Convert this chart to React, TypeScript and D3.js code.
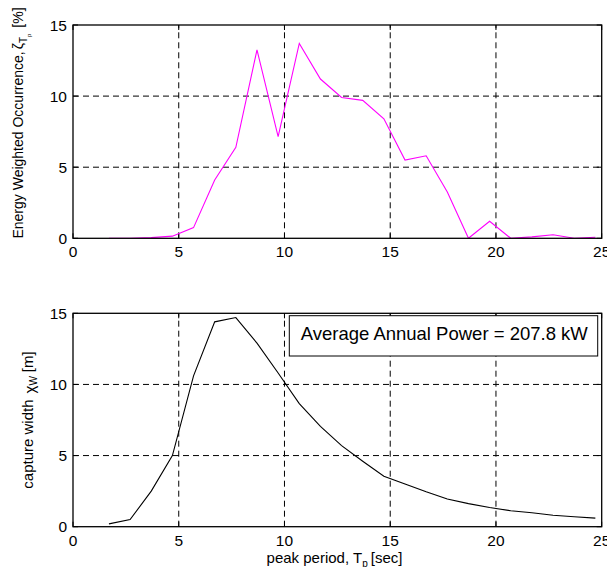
import React from 'react';
import * as d3 from 'd3';

const periods = [1.7, 2.7, 3.7, 4.7, 5.7, 6.7, 7.7, 8.7, 9.7, 10.7, 11.7, 12.7, 13.7, 14.7, 15.7, 16.7, 17.7, 18.7, 19.7, 20.7, 21.7, 22.7, 23.7, 24.7];
const occurrence = [0, 0, 0.05, 0.15, 0.75, 4.1, 6.4, 13.25, 7.15, 13.7, 11.2, 9.9, 9.7, 8.4, 5.5, 5.8, 3.25, 0, 1.2, 0, 0.1, 0.25, 0, 0.07];
const captureWidth = [0.2, 0.5, 2.5, 5.0, 10.6, 14.4, 14.7, 12.9, 10.8, 8.65, 7.05, 5.7, 4.6, 3.55, 3.0, 2.45, 1.95, 1.62, 1.35, 1.12, 0.98, 0.8, 0.7, 0.6];
const xTicks = [0, 5, 10, 15, 20, 25];
const yTicks = [0, 5, 10, 15];
const legendText = 'Average Annual Power = 207.8 kW';

const W = 607;
const H = 567;
const FONT = '"Liberation Sans", Arial, Helvetica, sans-serif';

const xScale = d3.scaleLinear().domain([0, 25]).range([73, 601.7]);
const yTop = d3.scaleLinear().domain([0, 15]).range([238.3, 25]);
const yBot = d3.scaleLinear().domain([0, 15]).range([526.7, 313.3]);

function Panel({ y, values, color, id }: { y: d3.ScaleLinear<number, number>; values: number[]; color: string; id: string }) {
  const [x0, x1] = xScale.range();
  const [y0, y1] = y.range();
  const line = d3
    .line<number>()
    .x((_, i) => xScale(periods[i]))
    .y((d) => y(d));
  const tickLen = 5;
  return (
    <g>
      <defs>
        <clipPath id={id}>
          <rect x={x0} y={y1} width={x1 - x0} height={y0 - y1} />
        </clipPath>
      </defs>
      <rect x={x0} y={y1} width={x1 - x0} height={y0 - y1} fill="white" />
      {xTicks.slice(1, -1).map((t) => (
        <line key={'gx' + t} x1={xScale(t)} x2={xScale(t)} y1={y0} y2={y1} stroke="#000" strokeWidth={1} strokeDasharray="6,4" />
      ))}
      {yTicks.slice(1, -1).map((t) => (
        <line key={'gy' + t} x1={x0} x2={x1} y1={y(t)} y2={y(t)} stroke="#000" strokeWidth={1} strokeDasharray="6,4" />
      ))}
      {xTicks.map((t) => (
        <g key={'tx' + t}>
          <line x1={xScale(t)} x2={xScale(t)} y1={y0} y2={y0 - tickLen} stroke="#000" />
          <line x1={xScale(t)} x2={xScale(t)} y1={y1} y2={y1 + tickLen} stroke="#000" />
          <text x={xScale(t)} y={y0 + 19} textAnchor="middle" fontSize={15.5} fontFamily={FONT} fill="#000">
            {t}
          </text>
        </g>
      ))}
      {yTicks.map((t) => (
        <g key={'ty' + t}>
          <line x1={x0} x2={x0 + tickLen} y1={y(t)} y2={y(t)} stroke="#000" />
          <line x1={x1} x2={x1 - tickLen} y1={y(t)} y2={y(t)} stroke="#000" />
          <text x={x0 - 6} y={y(t) + 5.5} textAnchor="end" fontSize={15.5} fontFamily={FONT} fill="#000">
            {t}
          </text>
        </g>
      ))}
      <path d={line(values) || ''} fill="none" stroke={color} strokeWidth={1.1} clipPath={`url(#${id})`} />
      <rect x={x0} y={y1} width={x1 - x0} height={y0 - y1} fill="none" stroke="#000" strokeWidth={1.3} />
    </g>
  );
}

export default function App() {
  return (
    <svg
      width={W}
      height={H}
      viewBox={`0 0 ${W} ${H}`}
      style={{ position: 'absolute', left: 0, top: 0, background: '#fff' }}
    >
      <rect x={0} y={0} width={W} height={H} fill="#fff" />
      <Panel y={yTop} values={occurrence} color="#ff00ff" id="clipTop" />
      <Panel y={yBot} values={captureWidth} color="#000" id="clipBot" />

      {/* legend box */}
      <rect x={289.3} y={315.7} width={308.4} height={40.3} fill="#fff" stroke="#000" strokeWidth={1} />
      <text x={300.7} y={339.5} fontSize={18.5} fontFamily={FONT} fill="#000">
        {legendText}
      </text>

      {/* top y label */}
      <text transform="translate(23,123) rotate(-90)" textAnchor="middle" fontSize={14} fontFamily={FONT} fill="#000">
        Energy Weighted Occurrence,
        <tspan dx={2}>ζ</tspan>
        <tspan dy={4} fontSize={10}>T</tspan>
        <tspan dy={4} fontSize={6}>p</tspan>
        <tspan dy={-8} dx={6}>[%]</tspan>
      </text>

      {/* bottom y label */}
      <text transform="translate(33,420) rotate(-90)" textAnchor="middle" fontSize={15} fontFamily={FONT} fill="#000">
        capture width
        <tspan dx={6} dy={2}>χ</tspan>
        <tspan dy={2} fontSize={10}>W</tspan>
        <tspan dy={-4} dx={4}>[m]</tspan>
      </text>

      {/* x label */}
      <text x={334.5} y={562.7} textAnchor="middle" fontSize={15} fontFamily={FONT} fill="#000">
        peak period, T
        <tspan dy={4} fontSize={10}>p</tspan>
        <tspan dy={-4} dx={3}>[sec]</tspan>
      </text>
    </svg>
  );
}
